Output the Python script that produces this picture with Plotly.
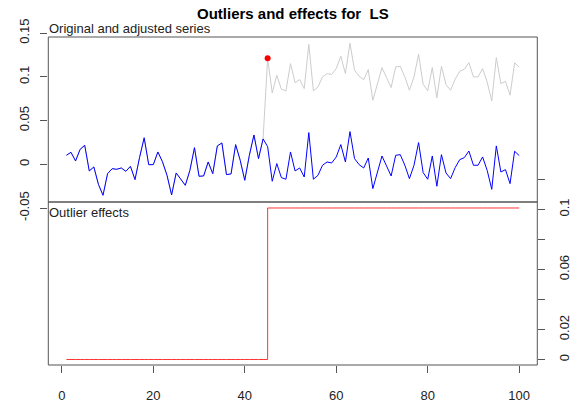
import plotly.graph_objects as go

W, H = 584, 406

# ---- data ----
t = list(range(1, 101))
adjusted = [
    0.0103, 0.0137, 0.0038, 0.0171, 0.0217, -0.0076, -0.0030, -0.0229, -0.0354, -0.0107,
    -0.0050, -0.0057, -0.0042, -0.0080, -0.0023, -0.0175, 0.0080, 0.0303, -0.0004, -0.0004,
    0.0141, 0.0030, -0.0126, -0.0350, -0.0099, -0.0171, -0.0240, -0.0069, 0.0190, -0.0137,
    -0.0133, 0.0027, -0.0107, 0.0210, 0.0244, -0.0118, -0.0110, 0.0225, 0.0046, -0.0183,
    0.0103, 0.0335, 0.0065, 0.0290, 0.0202, -0.0194, 0.0008, -0.0152, -0.0171, 0.0141,
    -0.0076, -0.0042, -0.0145, 0.0362, -0.0171, -0.0126, -0.0011, 0.0027, 0.0015, 0.0084,
    0.0225, 0.0027, 0.0374, 0.0065, -0.0004, -0.0042, 0.0072, -0.0278, -0.0088, 0.0095,
    -0.0019, -0.0133, 0.0103, 0.0110, -0.0011, -0.0164, -0.0011, 0.0248, -0.0095, -0.0171,
    0.0095, -0.0251, 0.0110, -0.0099, -0.0164, -0.0038, 0.0053, 0.0076, 0.0152, -0.0011,
    -0.0011, 0.0084, -0.0069, -0.0286, 0.0210, -0.0088, -0.0061, -0.0221, 0.0149, 0.0100,
]
ls_index = 45          # level shift position
effects = [0.0] * 44 + [0.101] * 56   # outlier (level-shift) effect
original = [a + e for a, e in zip(adjusted, effects)]

x_ticks = [0, 20, 40, 60, 80, 100]
y1_ticks = [-0.05, 0, 0.05, 0.1, 0.15]
y1_labels = ["-0.05", "0", "0.05", "0.1", "0.15"]
y2_ticks = [0, 0.02, 0.04, 0.06, 0.08, 0.1, 0.12]
y2_labels = ["0", "0.02", "", "0.06", "", "0.1", ""]

FONT = "Liberation Sans, Arial, Helvetica, sans-serif"
AXC = "#555555"

def px(x):
    return x / W

def py(y):
    return 1 - y / H

xdom = [px(48.3), px(537.3)]
xrange_ = [-2.96, 103.96]

fig = go.Figure()
fig.add_trace(go.Scatter(x=t, y=original, mode="lines",
                         line=dict(color="#cccccc", width=1), xaxis="x", yaxis="y",
                         showlegend=False, hoverinfo="skip"))
fig.add_trace(go.Scatter(x=t, y=adjusted, mode="lines",
                         line=dict(color="#0000ff", width=1), xaxis="x", yaxis="y",
                         showlegend=False))
fig.add_trace(go.Scatter(x=[t[ls_index - 1]], y=[original[ls_index - 1]], mode="markers",
                         marker=dict(color="#ff0000", size=6), xaxis="x", yaxis="y",
                         showlegend=False))
fig.add_trace(go.Scatter(x=t, y=effects, mode="lines", line_shape="hv",
                         line=dict(color="#ff3333", width=1), xaxis="x2", yaxis="y2",
                         showlegend=False))

tickfont = dict(family=FONT, size=13, color="#222222")

fig.update_layout(
    template="none",
    width=W, height=H,
    margin=dict(l=0, r=0, t=0, b=0, pad=0),
    paper_bgcolor="white", plot_bgcolor="rgba(0,0,0,0)",
    xaxis=dict(domain=xdom, range=xrange_, anchor="y", visible=False, automargin=False),
    yaxis=dict(domain=[py(208.05), py(33.05)], range=[-0.05, 0.15], anchor="x",
               tickvals=y1_ticks, ticktext=y1_labels, ticks="outside", ticklen=7,
               tickcolor=AXC, tickangle=-90, showgrid=False, zeroline=False,
               showline=False, tickfont=tickfont, ticklabelstandoff=6, automargin=False),
    xaxis2=dict(domain=xdom, range=xrange_, anchor="y2",
                tickvals=x_ticks, ticks="outside", ticklen=7, tickcolor=AXC,
                showgrid=False, zeroline=False, showline=False, tickfont=tickfont,
                ticklabelstandoff=11, automargin=False),
    yaxis2=dict(domain=[py(365), py(179)], range=[-0.00367, 0.12033], anchor="x2",
                side="right", tickvals=y2_ticks, ticktext=y2_labels, ticks="outside",
                ticklen=7, tickcolor=AXC, tickangle=-90, showgrid=False,
                zeroline=False, showline=False, tickfont=tickfont, ticklabelstandoff=8,
                automargin=False),
    shapes=[
        dict(type="rect", xref="paper", yref="paper", x0=px(48.3), x1=px(537.3),
             y0=py(202), y1=py(37), line=dict(color=AXC, width=1)),
        dict(type="rect", xref="paper", yref="paper", x0=px(48.3), x1=px(537.3),
             y0=py(365), y1=py(202), line=dict(color=AXC, width=1)),
    ],
    annotations=[
        dict(text="<b>Outliers and effects for  LS</b>", xref="paper", yref="paper",
             x=px(292.5), y=py(13.5), xanchor="center", yanchor="middle",
             showarrow=False, font=dict(family=FONT, size=15, color="black")),
        dict(text="Original and adjusted series", xref="paper", yref="paper",
             x=px(47), y=py(28.5), xanchor="left", yanchor="middle",
             showarrow=False, font=dict(family=FONT, size=13, color="#222222")),
        dict(text="Outlier effects", xref="paper", yref="paper",
             x=px(47), y=py(212), xanchor="left", yanchor="middle",
             showarrow=False, font=dict(family=FONT, size=13, color="#222222")),
    ],
)

fig.write_html("out.html", config={"displayModeBar": False},
               post_script="document.body.style.margin='0';")
